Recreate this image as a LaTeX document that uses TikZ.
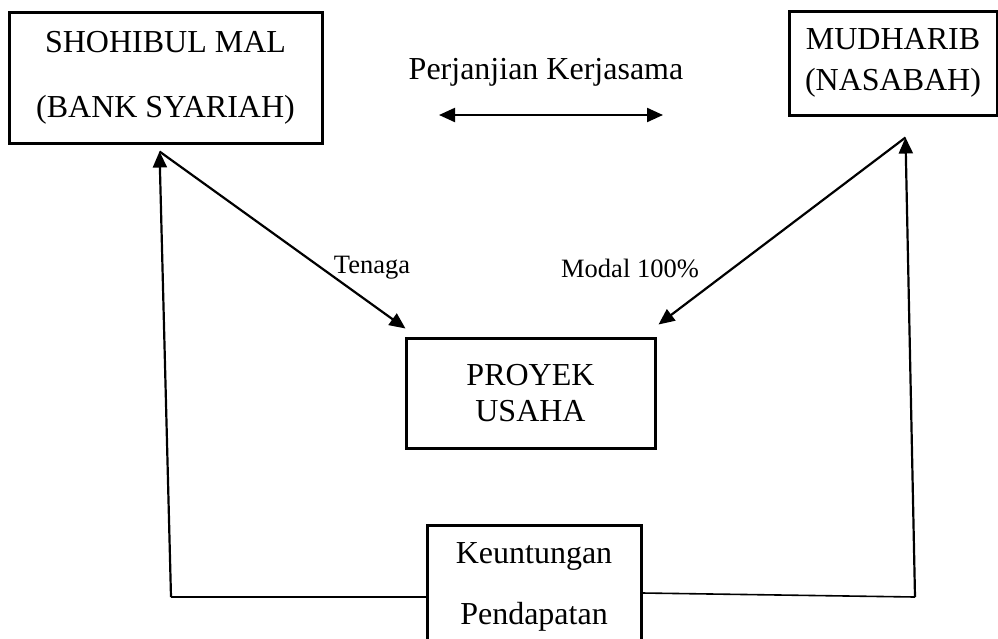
\documentclass[tikz,border=0pt]{standalone}
\usepackage{fontspec}
\setmainfont{Liberation Serif}
\usetikzlibrary{arrows.meta}

\tikzset{
  kotak/.style = {draw, line width=3pt, align=center, inner sep=0pt},
  panah/.style = {line width=2.2pt, -{Triangle[length=16pt,width=14pt]}},
  garis/.style = {line width=1.6pt},
  label kecil/.style = {font=\fontsize{26.5}{30}\selectfont}
}

\begin{document}
\begin{tikzpicture}[x=1pt,y=-1pt]
  \path[use as bounding box] (0,0) rectangle (998,638);
  \clip (0,0) rectangle (998,638);

  % kotak-kotak
  \node[kotak, minimum width=313pt, minimum height=131pt,
        font=\fontsize{32}{65}\selectfont] (shohibul) at (165.5,77.5)
        {SHOHIBUL MAL\\(BANK SYARIAH)};
  \node[kotak, minimum width=208pt, minimum height=104pt,
        font=\fontsize{32}{41}\selectfont] (mudharib) at (893,63)
        {MUDHARIB\\(NASABAH)};
  \node[kotak, minimum width=249pt, minimum height=110pt,
        font=\fontsize{32}{36}\selectfont] (proyek) at (530.5,393)
        {PROYEK\\USAHA};
  \node[kotak, minimum width=214pt, minimum height=124pt,
        font=\fontsize{32}{61}\selectfont] (keuntungan) at (534,587)
        {Keuntungan\\Pendapatan};

  % perjanjian
  \node[font=\fontsize{32}{36}\selectfont] (perjanjian) at (546,72) {Perjanjian Kerjasama};
  \coordinate (pk-kiri) at (439,115);
  \coordinate (pk-kanan) at (663,115);
  \draw[panah, {Triangle[length=16pt,width=14pt]}-{Triangle[length=16pt,width=14pt]}] (pk-kiri) -- (pk-kanan);

  % titik ujung panah
  \coordinate (sm-in) at ([xshift=152pt,yshift=-7pt]shohibul.south west);
  \coordinate (md-in) at ([xshift=118pt,yshift=-21pt]mudharib.south west);
  \coordinate (py-kiri) at ([xshift=1pt,yshift=8pt]proyek.north west);
  \coordinate (py-kanan) at ([xshift=2pt,yshift=12pt]proyek.north east);
  \coordinate (kiri) at (171,597);
  \coordinate (kanan) at (915,597);

  \draw[panah] (sm-in) -- (py-kiri);
  \draw[panah] (md-in) -- (py-kanan);
  \node[label kecil] (tenaga) at (372,268) {Tenaga};
  \node[label kecil] (modal) at (630,268) {Modal 100\%};

  \draw[panah] (kiri) -- (sm-in);
  \draw[panah] (kanan) -- (md-in);
  \draw[garis] (kiri) -- (kiri -| keuntungan.west);
  \draw[garis] ([yshift=-6pt]keuntungan.east) -- (kanan);
\end{tikzpicture}
\end{document}
